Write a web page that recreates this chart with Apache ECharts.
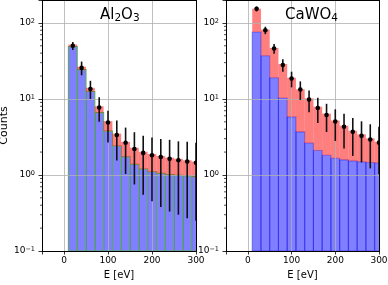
<!DOCTYPE html>
<html><head><meta charset="utf-8">
<script src="https://cdn.jsdelivr.net/npm/echarts@6/dist/echarts.min.js"></script>
<style>html,body{margin:0;padding:0;background:#fff}#c{width:388px;height:285px}</style>
</head><body><div id="c"></div>
<script>
// ---- data ----
const BIN_EDGES = [10, 30, 50, 70, 90, 110, 130, 150, 170, 190, 210, 230, 250, 270, 290, 310];
const BIN_CENTERS = [20, 40, 60, 80, 100, 120, 140, 160, 180, 200, 220, 240, 260, 280, 300];

// Al2O3 panel
const AL_BLUE = [48.7, 24.3, 12.5, 6.6, 3.77, 2.4, 1.73, 1.38, 1.2, 1.1, 1.05, 1.01, 0.99, 0.97, 0.95];
const AL_RED = [3.3, 2.2, 1.5, 1.4, 1.33, 1.1, 0.99, 0.9, 0.82, 0.79, 0.73, 0.68, 0.64, 0.59, 0.55];
const AL_POINTS = [50, 25.6, 13.5, 7.7, 4.9, 3.35, 2.65, 2.2, 1.95, 1.82, 1.72, 1.63, 1.56, 1.5, 1.45];
const AL_ERR_LO = [44, 20.5, 10, 5.0, 2.68, 1.55, 1.03, 0.75, 0.55, 0.45, 0.38, 0.33, 0.30, 0.27, 0.25];
const AL_ERR_HI = [56, 31, 17.3, 10.5, 7.0, 5.2, 4.2, 3.65, 3.28, 3.1, 2.98, 2.9, 2.77, 2.73, 2.65];

// CaWO4 panel
const CA_BLUE = [76, 37, 19, 10.3, 5.8, 3.69, 2.62, 2.1, 1.82, 1.66, 1.58, 1.53, 1.49, 1.46, 1.43];
const CA_RED = [78, 44.6, 27.9, 18.5, 13.2, 9.71, 7.58, 5.8, 4.58, 3.54, 2.87, 2.29, 1.93, 1.57, 1.31];
const CA_POINTS = [153, 80, 46, 28, 18.5, 13.3, 9.8, 7.6, 6.15, 5.05, 4.3, 3.7, 3.27, 2.93, 2.66];
const CA_ERR_LO = [142, 71, 39.2, 22.7, 14.2, 9.7, 6.67, 4.84, 3.67, 2.8, 2.23, 1.78, 1.46, 1.22, 1.03];
const CA_ERR_HI = [164, 89, 52.8, 33.3, 22.8, 17.0, 12.9, 10.36, 8.63, 7.3, 6.37, 5.62, 5.08, 4.64, 4.29];

const X_MIN = -50, X_MAX = 300;
const Y_MIN = 0.1, Y_MAX = 200;
const MINOR_TICKS = [0.2, 0.3, 0.4, 0.5, 0.6, 0.7, 0.8, 0.9, 2, 3, 4, 5, 6, 7, 8, 9, 20, 30, 40, 50, 60, 70, 80, 90];

// ---- styles ----
const FONT = 'DejaVu Sans';
const BLUE = 'rgba(0,0,255,0.5)';
const BLUE_EDGE = 'rgba(0,0,220,0.38)';
const RED = 'rgba(255,0,0,0.5)';
const GREEN_EDGE = 'rgb(92,172,92)';

function blueData(blue) {
  return blue.map((v, i) => [BIN_EDGES[i], BIN_EDGES[i + 1], Y_MIN, v]);
}
function redData(blue, red) {
  return red.map((v, i) => [BIN_EDGES[i], BIN_EDGES[i + 1], blue[i], blue[i] + v]);
}
function errData(pts, lo, hi) {
  return pts.map((v, i) => [BIN_CENTERS[i], v, lo[i], hi[i]]);
}

function barItem(fill, stroke, lw) {
  return function (params, api) {
    const a = api.coord([api.value(0), api.value(3)]);
    const b = api.coord([api.value(1), api.value(2)]);
    return {
      type: 'rect',
      shape: { x: a[0], y: a[1], width: b[0] - a[0], height: b[1] - a[1] },
      style: { fill: fill, stroke: stroke, lineWidth: lw }
    };
  };
}
function errItem(params, api) {
  const x = api.value(0);
  const top = api.coord([x, api.value(3)]);
  const bot = api.coord([x, api.value(2)]);
  const pt = api.coord([x, api.value(1)]);
  return {
    type: 'group', children: [
      { type: 'line', shape: { x1: top[0], y1: top[1], x2: bot[0], y2: bot[1] }, style: { stroke: '#111', lineWidth: 1.6 } },
      { type: 'circle', shape: { cx: pt[0], cy: pt[1], r: 2.3 }, style: { fill: '#000' } }
    ]
  };
}
function minorItem(params, api) {
  const p = api.coord([api.value(0), api.value(1)]);
  return { type: 'line', shape: { x1: p[0] - 2, y1: p[1], x2: p[0], y2: p[1] }, style: { stroke: '#000', lineWidth: 0.7 } };
}

function yLabel(v) {
  const e = Math.log10(v);
  const r = Math.round(e);
  if (Math.abs(e - r) > 1e-6) return '';
  const s = r < 0 ? '\u2212' + Math.abs(r) : String(r);
  return '10{sup|' + s + '}';
}
function xLabel(v) {
  return (Math.round(v) % 100 === 0) ? String(Math.round(v)) : '';
}

function mainX(gi) {
  return {
    gridIndex: gi, type: 'value', min: X_MIN, max: X_MAX, splitNumber: 4, z: 5,
    axisLine: { show: true, onZero: false, lineStyle: { color: '#000', width: 1 } },
    axisTick: { show: true, length: 3.5, lineStyle: { color: '#000', width: 0.8 } },
    axisLabel: { formatter: xLabel, margin: 5, color: '#000', fontSize: 9, fontFamily: FONT },
    splitLine: { show: true, lineStyle: { color: '#b0b0b0', width: 0.8 } },
    name: 'E [eV]', nameLocation: 'middle', nameGap: 19,
    nameTextStyle: { color: '#000', fontSize: 10, fontFamily: FONT }
  };
}
function frameX(gi) {
  return {
    gridIndex: gi, type: 'value', position: 'top', min: X_MIN, max: X_MAX, z: 5,
    axisLine: { show: true, onZero: false, lineStyle: { color: '#000', width: 1 } },
    axisTick: { show: false }, axisLabel: { show: false }, splitLine: { show: false }
  };
}
function mainY(gi, name) {
  const o = {
    gridIndex: gi, type: 'log', logBase: 10, min: Y_MIN, max: Y_MAX, z: 5,
    axisLine: { show: true, onZero: false, lineStyle: { color: '#000', width: 1 } },
    axisTick: { show: true, length: 3.5, lineStyle: { color: '#000', width: 0.8 } },
    axisLabel: {
      formatter: yLabel, margin: 7, color: '#000', fontSize: 9, lineHeight: 11, fontFamily: FONT,
      rich: { sup: { fontSize: 6.5, lineHeight: 6, verticalAlign: 'top', fontFamily: FONT, color: '#000' } }
    },
    splitLine: { show: true, lineStyle: { color: '#b0b0b0', width: 0.8 } }
  };
  if (name) {
    o.name = name; o.nameLocation = 'middle'; o.nameGap = 28; o.nameRotate = 90;
    o.nameTextStyle = { color: '#000', fontSize: 11, fontFamily: FONT };
  }
  return o;
}
function frameY(gi) {
  return {
    gridIndex: gi, type: 'log', logBase: 10, position: 'right', min: Y_MIN, max: Y_MAX, z: 5,
    axisLine: { show: true, onZero: false, lineStyle: { color: '#000', width: 1 } },
    axisTick: { show: false }, axisLabel: { show: false }, splitLine: { show: false }
  };
}

function panelSeries(xi, yi, blue, red, pts, lo, hi, blueStroke) {
  return [
    { type: 'custom', xAxisIndex: xi, yAxisIndex: yi, clip: true, z: 2, renderItem: barItem(BLUE, blueStroke, 1.1),
      encode: { x: [0, 1], y: [2, 3] }, data: blueData(blue), silent: true },
    { type: 'custom', xAxisIndex: xi, yAxisIndex: yi, clip: true, z: 2, renderItem: barItem(RED, null, 0),
      encode: { x: [0, 1], y: [2, 3] }, data: redData(blue, red), silent: true },
    { type: 'custom', xAxisIndex: xi, yAxisIndex: yi, clip: true, z: 6, renderItem: errItem,
      encode: { x: 0, y: [1, 2, 3] }, data: errData(pts, lo, hi), silent: true },
    { type: 'custom', xAxisIndex: xi, yAxisIndex: yi, clip: false, z: 6, renderItem: minorItem,
      encode: { x: 0, y: 1 }, data: MINOR_TICKS.map(v => [X_MIN, v]), silent: true }
  ];
}

const titleStyle = {
  fontSize: 15, fontWeight: 'normal', color: '#000', fontFamily: FONT, lineHeight: 18,
  rich: { s: { fontSize: 10.5, lineHeight: 10, verticalAlign: 'bottom', fontFamily: FONT, color: '#000' } }
};

const chart = echarts.init(document.getElementById('c'), null, { renderer: 'canvas' });
chart.setOption({
  animation: false,
  backgroundColor: '#fff',
  title: [
    { text: 'Al{s|2}O{s|3}', left: 100, top: 6, padding: 0, textStyle: titleStyle },
    { text: 'CaWO{s|4}', left: 285, top: 6, padding: 0, textStyle: titleStyle }
  ],
  grid: [
    { left: 42, top: 0, width: 154, height: 251, outerBoundsMode: 'none' },
    { left: 226, top: 0, width: 153, height: 251, outerBoundsMode: 'none' }
  ],
  xAxis: [mainX(0), frameX(0), mainX(1), frameX(1)],
  yAxis: [mainY(0, 'Counts'), frameY(0), mainY(1, null), frameY(1)],
  series: [].concat(
    panelSeries(0, 0, AL_BLUE, AL_RED, AL_POINTS, AL_ERR_LO, AL_ERR_HI, GREEN_EDGE),
    panelSeries(2, 2, CA_BLUE, CA_RED, CA_POINTS, CA_ERR_LO, CA_ERR_HI, BLUE_EDGE)
  )
});
</script></body></html>
